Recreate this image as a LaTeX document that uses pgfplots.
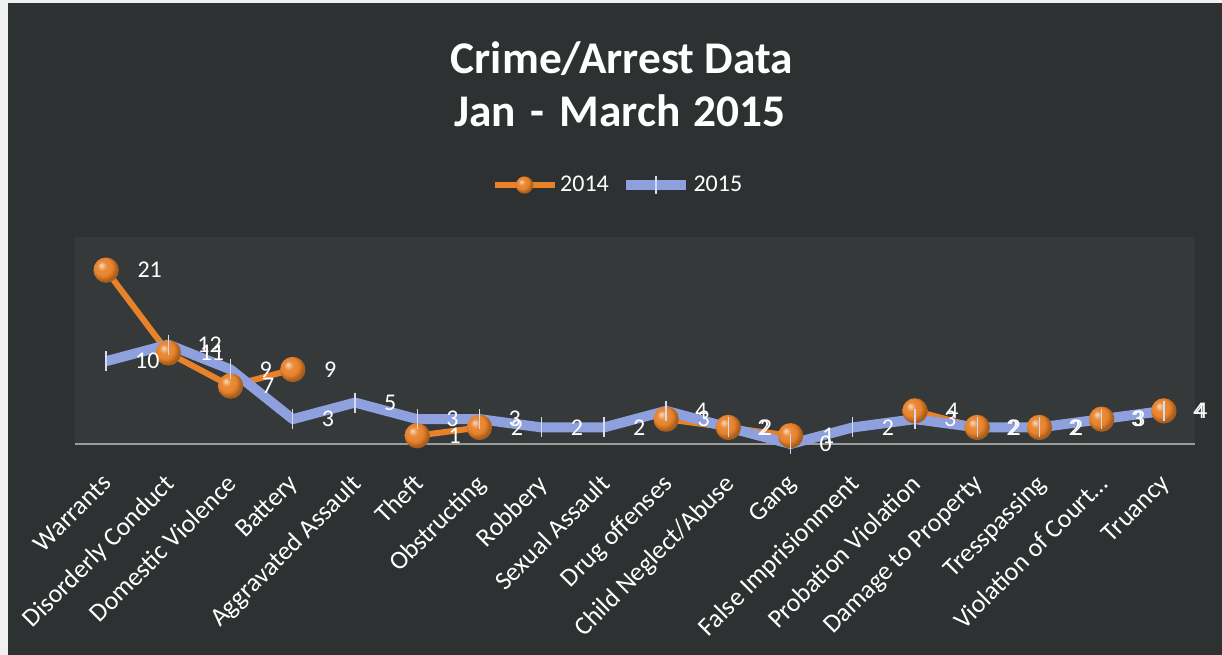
\documentclass[border=0pt]{standalone}
\usepackage{fontspec}
\setmainfont{Carlito}
\usepackage{pgfplots}
\usepackage{pgfplotstable}
\pgfplotsset{compat=1.18}
\definecolor{bgdark}{HTML}{2E3131}
\definecolor{plotbg}{HTML}{363939}
\definecolor{orng}{HTML}{E8822A}
\definecolor{periw}{HTML}{8EA0DD}
\definecolor{tickmk}{HTML}{D5DBF2}
\definecolor{baseln}{HTML}{9A9C9C}

% shaded orange ball for the 2014 markers
\pgfdeclareradialshading{orball}{\pgfpoint{-10bp}{10bp}}{color(0bp)=(orng!30!white); color(9bp)=(orng!92!white); color(18bp)=(orng); color(25bp)=(orng!75!black); color(50bp)=(orng!45!black)}
\pgfdeclareplotmark{orball}{\pgfpathcircle{\pgfpointorigin}{\pgfplotmarksize}\pgfshadepath{orball}{0}\pgfusepath{}}

% 2014 / 2015 counts per category, nan = no value that year
\pgfplotstableread{
idx y14 y15
0  21  10
1  11  12
2  7   9
3  9   3
4  nan 5
5  1   3
6  2   3
7  nan 2
8  nan 2
9  3   4
10 2   2
11 1   0
12 nan 2
13 4   3
14 2   2
15 2   2
16 3   3
17 4   4
}\crimedata

\begin{document}
\begin{tikzpicture}
\useasboundingbox (0,0) rectangle (916.5pt,491.25pt);
\fill[bgdark] (0,0) rectangle (916.5pt,491.25pt);
\fill[white!94!black] (0,0) rectangle (6pt,491.25pt);
\fill[white!94!black] (0,489pt) rectangle (916.5pt,491.25pt);

\node[white,font=\fontsize{34}{38}\selectfont\bfseries,anchor=base] at (466.5pt,436pt) {Crime/Arrest Data};
\node[white,font=\fontsize{34}{38}\selectfont\bfseries,anchor=base] at (465pt,396pt) {Jan\hspace{0.33em}-\hspace{0.33em}March\hspace{0.3em}2015};

\begin{axis}[
  at={(56.25pt,158.25pt)}, anchor=south west,
  width=840pt, height=155.25pt, scale only axis,
  xmin=-0.5, xmax=17.5, ymin=0, ymax=25,
  axis x line*=bottom, hide y axis,
  x axis line style={baseln,line width=1.2pt,-},
  axis background/.style={fill=plotbg},
  xtick={0,1,2,3,4,5,6,7,8,9,10,11,12,13,14,15,16,17}, major tick length=0pt,
  xticklabels={Warrants,Disorderly Conduct,Domestic Violence,Battery,Aggravated Assault,Theft,Obstructing,Robbery,Sexual Assault,Drug offenses,Child Neglect/Abuse,Gang,False Imprisionment,Probation Violation,Damage to Property,Tresspassing,{Violation of Court\ldots},Truancy},
  xticklabel style={white,font=\fontsize{19.5}{21}\selectfont,xshift=-4pt,yshift=-20pt,rotate=45,anchor=north east,inner sep=1pt},
  unbounded coords=jump,
  /pgf/number format/assume math mode=true,
  nodes near coords,
  nodes near coords style={white,font=\fontsize{18}{20}\selectfont,anchor=west,xshift=18pt},
  legend style={at={(0.485,1.251)},anchor=center,legend columns=2,draw=none,fill=none,
    text=white,font=\fontsize{18}{20}\selectfont,
    /tikz/every even column/.append style={column sep=7pt}},
  legend image code/.code={\draw[mark repeat=2,mark phase=2,mark size=6.5pt]
    plot coordinates {(0pt,0pt) (22.5pt,0pt) (45pt,0pt)};},
  clip=false,
]
\addplot[orng,line width=4.5pt,line join=round,mark=orball,mark size=9.5pt] table[x=idx,y=y14] {\crimedata};
\addlegendentry{2014}
\addplot[periw,line width=7.5pt,line join=round,mark=|,mark size=7.5pt,
  mark options={draw=tickmk,line width=1pt}] table[x=idx,y=y15] {\crimedata};
\addlegendentry{2015}
\end{axis}
\end{tikzpicture}
\end{document}
